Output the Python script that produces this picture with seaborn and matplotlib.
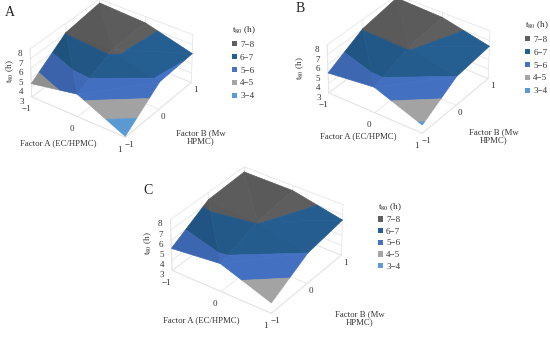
import numpy as np, matplotlib
matplotlib.use('Agg')
import matplotlib.pyplot as plt
import seaborn as sns
from matplotlib.colors import to_rgb
from matplotlib.patches import Patch
from mpl_toolkits.mplot3d.art3d import Poly3DCollection

factor_levels = [-1, 0, 1]
z_ticks = [3, 4, 5, 6, 7, 8]
band_labels = ['7\u22128', '6\u22127', '5\u22126', '4\u22125', '3\u22124']
band_edges = [(7, 8), (6, 7), (5, 6), (4, 5), (3, 4)]
band_colors = ['#5f5f5f', '#255e91', '#4472c4', '#a5a5a5', '#5b9bd5']

# rows: factor A = -1, 0, 1 / columns: factor B = -1, 0, 1
t80_a = [[4.4, 7.05, 7.6], [5.35, 7.2, 7.35], [3.1, 5.85, 6.05]]
t80_b = [[5.1, 7.05, 7.7], [5.66, 7.1, 7.5], [3.85, 6.0, 6.4]]
t80_c = [[5.2, 7.3, 7.5], [5.74, 7.05, 7.5], [4.02, 6.0, 6.5]]

sns.set_theme(style='white')
plt.rcParams['font.family'] = ['Liberation Serif', 'DejaVu Serif']
plt.rcParams['mathtext.fontset'] = 'stix'
text_col = '#333333'
light = np.array([0.8, 0.2, 0.55])
light = light / np.linalg.norm(light)
z_aspect = 0.5


def clip(poly, lo, hi):
    # cut a triangle down to the part inside one z band
    for limit, sign in ((lo, 1), (hi, -1)):
        out = []
        for i in range(len(poly)):
            p, q = poly[i], poly[(i + 1) % len(poly)]
            dp, dq = sign * (p[2] - limit), sign * (q[2] - limit)
            if dp >= 0:
                out.append(p)
            if dp * dq < 0:
                t = dp / (dp - dq)
                out.append(tuple(p[k] + t * (q[k] - p[k]) for k in range(3)))
        poly = out
        if not poly:
            return []
    return poly


def triangles(z):
    x = factor_levels
    pt = lambda i, j: (x[i], x[j], z[i][j])
    return [
        (pt(0, 0), pt(1, 0), pt(0, 1)), (pt(1, 0), pt(1, 1), pt(0, 1)),
        (pt(1, 0), pt(2, 0), pt(2, 1)), (pt(1, 0), pt(2, 1), pt(1, 1)),
        (pt(0, 1), pt(1, 1), pt(0, 2)), (pt(1, 1), pt(1, 2), pt(0, 2)),
        (pt(1, 1), pt(2, 1), pt(2, 2)), (pt(1, 1), pt(2, 2), pt(1, 2)),
    ]


def shaded(tri, c):
    a, b, d = [np.array(p) * (1, 1, z_aspect * 2 / 5) for p in tri]
    n = np.cross(b - a, d - a)
    n = n / np.linalg.norm(n)
    if n[2] < 0:
        n = -n
    f = min(1.0, 0.8 + 0.28 * n.dot(light))
    return tuple(np.array(to_rgb(c)) * f)


def panel(fig, rect, z, letter, letter_xy, xlab_xy, ylab_xy, zlab_xy, leg_xy, spacing):
    W, H = 550, 340
    ax = fig.add_axes([rect[0] / W, 1 - (rect[1] + rect[3]) / H, rect[2] / W, rect[3] / H],
                      projection='3d')
    ax.patch.set_alpha(0)
    ax.set_proj_type('persp', focal_length=0.95)
    ax.view_init(elev=34, azim=-54)
    ax.set_box_aspect((1, 1, z_aspect), zoom=0.56)

    polys, cols = [], []
    for (lo, hi), c in zip(band_edges, band_colors):
        for tri in triangles(z):
            p = clip(list(tri), lo, hi)
            if len(p) >= 3:
                polys.append(p)
                cols.append(shaded(tri, c))
    coll = Poly3DCollection(polys, facecolors=cols, edgecolors=cols, linewidths=0.5)
    ax.add_collection3d(coll)

    ax.set_xlim(-1, 1)
    ax.set_ylim(-1, 1)
    ax.set_zlim(3, 8)
    ax.set_xticks(factor_levels)
    ax.set_yticks(factor_levels)
    ax.set_zticks(z_ticks)
    ax.tick_params(labelsize=6.5, pad=-3, colors=text_col)
    ax.tick_params(axis='x', pad=1)
    ax.tick_params(axis='z', pad=-1)
    for axis in (ax.xaxis, ax.yaxis, ax.zaxis):
        axis.pane.set_visible(False)
        axis.line.set_color('#e4e4e4')
        axis.line.set_linewidth(0.6)
        axis._axinfo['grid']['color'] = '#e6e6e6'
        axis._axinfo['grid']['linewidth'] = 0.6
        axis._axinfo['tick']['inward_factor'] = 0
        axis._axinfo['tick']['outward_factor'] = 0
    ax.zaxis.set_ticks_position('lower')

    fig.text(letter_xy[0] / W, 1 - letter_xy[1] / H, letter, fontsize=10, color='#222222', va='center')
    fig.text(xlab_xy[0] / W, 1 - xlab_xy[1] / H, 'Factor A (EC/HPMC)', fontsize=6.3, color=text_col,
             ha='center', va='center')
    fig.text(ylab_xy[0] / W, 1 - ylab_xy[1] / H, 'Factor B (Mw\nHPMC)', fontsize=6.3, color=text_col,
             ha='center', va='center', linespacing=1.05)
    fig.text(zlab_xy[0] / W, 1 - zlab_xy[1] / H, 't$_{80}$ (h)', fontsize=6.5, color=text_col,
             ha='center', va='center', rotation=90)
    handles = [Patch(facecolor=c, edgecolor='none', label=l) for c, l in zip(band_colors, band_labels)]
    fig.legend(handles=handles, title='t$_{80}$ (h)', loc='upper left', frameon=False, fontsize=6.5,
               title_fontsize=6.5, bbox_to_anchor=(leg_xy[0] / W, 1 - leg_xy[1] / H),
               handlelength=0.55, handleheight=0.55, handletextpad=0.35, labelspacing=spacing,
               borderpad=0, borderaxespad=0, labelcolor=text_col, alignment='left')


fig = plt.figure(figsize=(5.5, 3.4), dpi=100, facecolor='white')
panel(fig, (-42, -80, 300, 300), t80_a, 'A', (5, 13), (58, 143), (201, 137), (10, 71), (232, 24), 0.55)
panel(fig, (255, -84, 300, 300), t80_b, 'B', (296, 9), (358, 136), (494, 136), (300, 68), (525, 19), 0.55)
panel(fig, (94, 83, 318, 318), t80_c, 'C', (143, 190), (201, 320), (360, 318), (148, 243), (378, 201), 0.4)
fig.savefig('out.png', dpi=100)
